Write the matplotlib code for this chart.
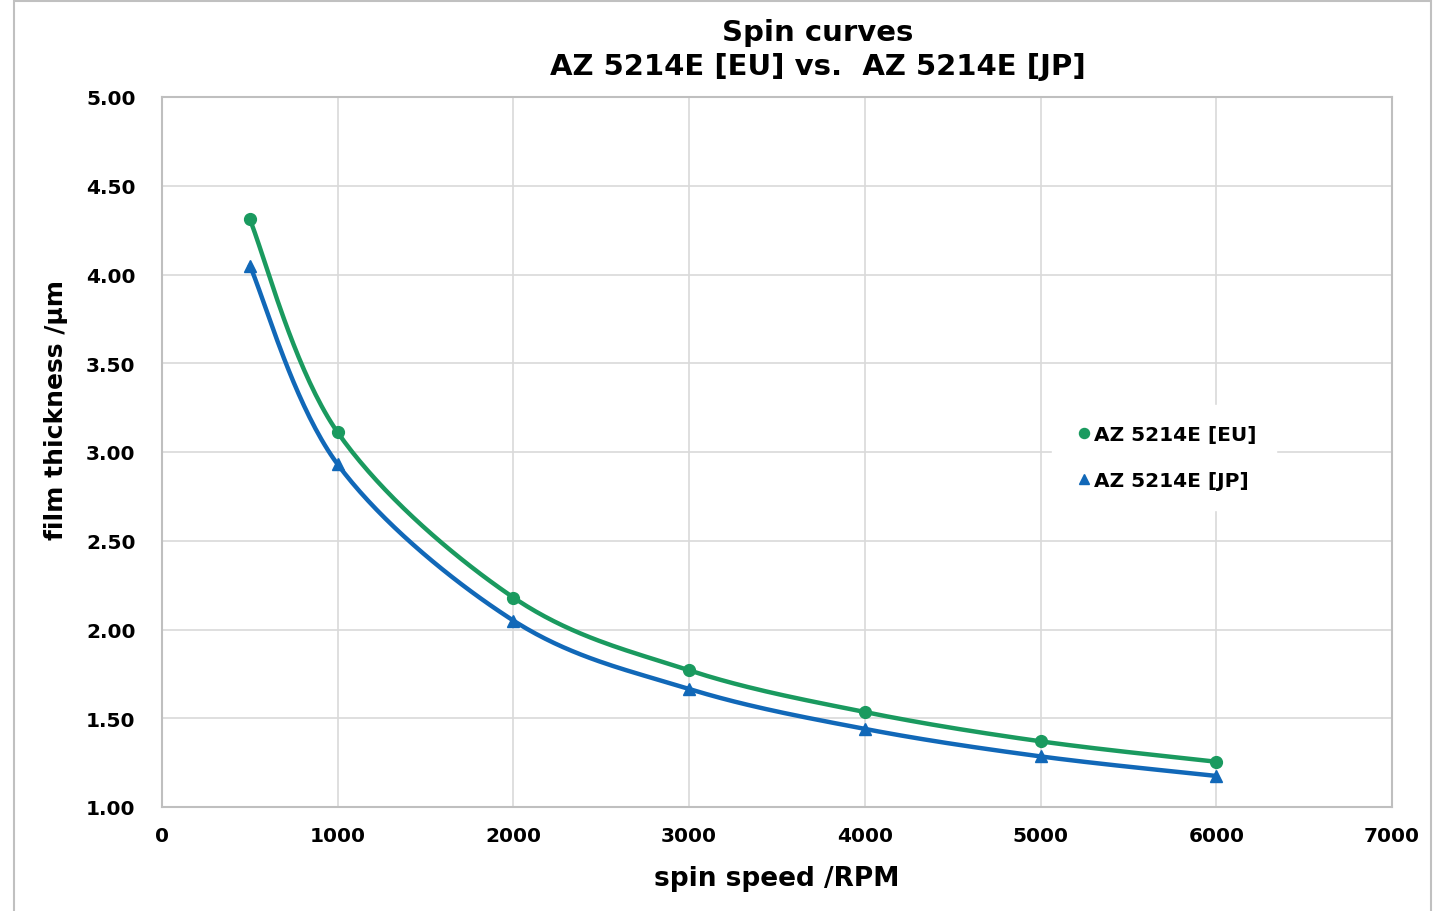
import numpy as np
import matplotlib
matplotlib.use('Agg')
import matplotlib.pyplot as plt
from matplotlib.patches import Rectangle

plt.rcParams['font.family'] = ['DejaVu Sans']
plt.rcParams['font.weight'] = 'bold'

rpm = [500, 1000, 2000, 3000, 4000, 5000, 6000]
eu = [4.31, 3.11, 2.18, 1.77, 1.535, 1.37, 1.255]
jp = [4.05, 2.93, 2.05, 1.665, 1.44, 1.285, 1.175]

green = '#1a9a5f'
blue = '#1168b8'


def smooth(x, y, n=40):
    # bezier smoothing like the spreadsheet "smoothed line" (ends duplicated)
    x = np.asarray(x, float)
    y = np.asarray(y, float)
    px = np.concatenate([[x[0]], x, [x[-1]]])
    py = np.concatenate([[y[0]], y, [y[-1]]])
    t = np.linspace(0, 1, n)
    xs, ys = [], []
    for i in range(1, len(px) - 2):
        for p, out in ((px, xs), (py, ys)):
            p0, p1, p2, p3 = p[i - 1], p[i], p[i + 1], p[i + 2]
            c1 = p1 + (p2 - p0) / 6
            c2 = p2 - (p3 - p1) / 6
            out.append((1 - t) ** 3 * p1 + 3 * (1 - t) ** 2 * t * c1
                       + 3 * (1 - t) * t ** 2 * c2 + t ** 3 * p2)
    return np.concatenate(xs), np.concatenate(ys)


fig = plt.figure(figsize=(14.35, 9.12), dpi=100)
fig.patches.append(Rectangle((14 / 1435, -0.01), 1417 / 1435, 1.0075,
                             transform=fig.transFigure, fill=False,
                             edgecolor='#c0c0c0', linewidth=1.5))
ax = fig.add_axes([162 / 1435, 1 - 808 / 912, 1230 / 1435, 710 / 912])

for y, c, m, lab in ((eu, green, 'o', 'AZ 5214E [EU]'),
                     (jp, blue, '^', 'AZ 5214E [JP]')):
    sx, sy = smooth(rpm, y)
    ax.plot(sx, sy, color=c, linewidth=3.2, solid_capstyle='round', zorder=3)
    ax.plot(rpm, y, linestyle='none', marker=m, color=c, markersize=8.5,
            zorder=4, label=lab)

ax.set_xlim(0, 7000)
ax.set_ylim(1.0, 5.0)
ax.set_xticks(np.arange(0, 7001, 1000))
ax.set_yticks(np.arange(1.0, 5.01, 0.5))
ax.set_yticklabels(['%.2f' % v for v in np.arange(1.0, 5.01, 0.5)])
ax.grid(True, color='#d9d9d9', linewidth=1.2)
ax.set_axisbelow(True)
for s in ax.spines.values():
    s.set_color('#bfbfbf')
    s.set_linewidth(1.5)
ax.tick_params(length=0, labelsize=14.5, pad=14)
ax.tick_params(axis='y', pad=19)
for lbl in ax.get_xticklabels() + ax.get_yticklabels():
    lbl.set_fontweight('bold')

ax.set_xlabel('spin speed /RPM', fontsize=19, fontweight='bold', labelpad=14)
fig.text(56 / 1435, 1 - 410 / 912, 'film thickness /µm', fontsize=18,
         fontweight='bold', rotation=90, ha='center', va='center')
fig.text(818 / 1435, 1 - 50 / 912, 'Spin curves\nAZ 5214E [EU] vs.  AZ 5214E [JP]',
         fontsize=21, fontweight='bold', ha='center', va='center',
         linespacing=1.3)

leg = ax.legend(loc='center left', bbox_to_anchor=(0.715, 0.492), frameon=True,
                fontsize=14.5, handletextpad=-0.1, handlelength=1.2,
                labelspacing=1.35, borderpad=1.0, markerscale=0.85)
leg.get_frame().set_edgecolor('white')
leg.get_frame().set_facecolor('white')
leg.get_frame().set_alpha(1)
for t in leg.get_texts():
    t.set_fontweight('bold')

plt.savefig('out.png', dpi=100)
